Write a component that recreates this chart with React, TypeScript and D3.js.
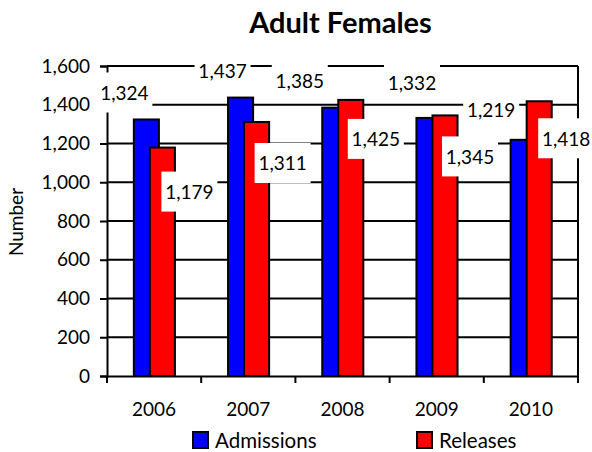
import React, { useEffect, useRef } from 'react';
import * as d3 from 'd3';

const years = ['2006', '2007', '2008', '2009', '2010'];
const admissions = [1324, 1437, 1385, 1332, 1219];
const releases = [1179, 1311, 1425, 1345, 1418];
const yTicks = [0, 200, 400, 600, 800, 1000, 1200, 1400, 1600];

// label nudges (px) from bar top/centre, as placed in the original
const admLabelNudge = [[-22, -27], [-18, -27], [-35, -27], [-17, -35], [-32, -30]];
const relLabelNudge = [[27, 44], [26, 41], [25, 39], [25, 41], [27, 37]];

const FONT = 'Lato, "Open Sans", sans-serif';
const NUM_SIZE = '19px';

function App() {
  const ref = useRef<SVGSVGElement>(null);

  useEffect(() => {
    const svg = d3.select(ref.current);
    svg.selectAll('*').remove();
    const margin = { top: 66, right: 14, bottom: 76, left: 107 };
    const width = 592 - margin.left - margin.right;
    const height = 452 - margin.top - margin.bottom;

    const x = d3.scaleBand().domain(years).range([0, width]).padding(0);
    const y = d3.scaleLinear().domain([0, 1600]).range([height, 0]);
    const bw = x.bandwidth();
    const barW = bw * 0.266;
    const admX = (d: string) => x(d)! + bw / 2 - bw * 0.215;
    const relX = (d: string) => x(d)! + bw / 2 - bw * 0.045;

    svg.append('text')
      .attr('x', margin.left + width / 2 - 2)
      .attr('y', 33)
      .attr('text-anchor', 'middle')
      .style('font-family', FONT)
      .style('font-size', '29px')
      .style('font-weight', 'bold')
      .text('Adult Females');

    svg.append('text')
      .attr('transform', 'translate(23,' + (margin.top + height / 2 + 1) + ') rotate(-90)')
      .attr('text-anchor', 'middle')
      .style('font-family', FONT)
      .style('font-size', '19px')
      .text('Number');

    const g = svg.append('g')
      .attr('transform', 'translate(' + margin.left + ',' + margin.top + ')');

    // gridlines
    g.selectAll('line.grid')
      .data(yTicks.filter(t => t > 0))
      .enter().append('line')
      .attr('x1', 0).attr('x2', width)
      .attr('y1', d => y(d)).attr('y2', d => y(d))
      .attr('stroke', '#000').attr('stroke-width', 2);
    g.append('line')
      .attr('x1', width).attr('x2', width)
      .attr('y1', 0).attr('y2', height)
      .attr('stroke', '#000').attr('stroke-width', 2);

    // bars
    const groups = g.selectAll('g.cat')
      .data(years)
      .enter().append('g');
    groups.append('rect')
      .attr('x', d => admX(d))
      .attr('y', (d, i) => y(admissions[i]))
      .attr('width', barW)
      .attr('height', (d, i) => height - y(admissions[i]))
      .attr('fill', '#0000ff').attr('stroke', '#000').attr('stroke-width', 2);
    groups.append('rect')
      .attr('x', d => relX(d))
      .attr('y', (d, i) => y(releases[i]))
      .attr('width', barW)
      .attr('height', (d, i) => height - y(releases[i]))
      .attr('fill', '#ff0000').attr('stroke', '#000').attr('stroke-width', 2);

    // axes
    const yAxis = g.append('g')
      .call(d3.axisLeft(y).tickValues(yTicks).tickSize(7).tickPadding(10).tickFormat(d3.format(',')));
    yAxis.select('.domain').attr('stroke-width', 2);
    yAxis.selectAll('.tick line').attr('stroke-width', 2);
    yAxis.selectAll('text').style('font-family', FONT).style('font-size', NUM_SIZE).attr('fill', '#000');

    const xAxis = g.append('g')
      .attr('transform', 'translate(0,' + height + ')')
      .call(d3.axisBottom(x).tickSize(0).tickPadding(27));
    xAxis.select('.domain').attr('stroke-width', 2);
    xAxis.selectAll('text').style('font-family', FONT).style('font-size', NUM_SIZE).attr('fill', '#000');
    xAxis.selectAll('line.sep')
      .data(d3.range(years.length + 1))
      .enter().append('line')
      .attr('x1', d => d * bw).attr('x2', d => d * bw)
      .attr('y1', 0).attr('y2', 7)
      .attr('stroke', '#000').attr('stroke-width', 2);

    // data labels with white boxes
    const fmt = d3.format(',');
    const addLabel = (cx: number, cy: number, v: number) => {
      g.append('rect')
        .attr('x', cx - 28).attr('y', cy - 20)
        .attr('width', 56).attr('height', 40)
        .attr('fill', '#fff');
      g.append('text')
        .attr('x', cx).attr('y', cy)
        .attr('text-anchor', 'middle')
        .attr('dominant-baseline', 'central')
        .style('font-family', FONT)
        .style('font-size', NUM_SIZE)
        .text(fmt(v));
    };
    years.forEach((d, i) => {
      addLabel(admX(d) + barW / 2 + admLabelNudge[i][0], y(admissions[i]) + admLabelNudge[i][1], admissions[i]);
      addLabel(relX(d) + barW / 2 + relLabelNudge[i][0], y(releases[i]) + relLabelNudge[i][1], releases[i]);
    });

    // legend
    const legend = svg.append('g').attr('transform', 'translate(193,432)');
    const items = [{ name: 'Admissions', color: '#0000ff', dx: 0 }, { name: 'Releases', color: '#ff0000', dx: 224 }];
    items.forEach(it => {
      legend.append('rect')
        .attr('x', it.dx).attr('y', 0).attr('width', 15).attr('height', 16)
        .attr('fill', it.color).attr('stroke', '#000').attr('stroke-width', 2);
      legend.append('text')
        .attr('x', it.dx + 22).attr('y', 8)
        .attr('dominant-baseline', 'central')
        .style('font-family', FONT)
        .style('font-size', '20.5px')
        .text(it.name);
    });
  }, []);

  return (
    <svg ref={ref} width="592" height="452" style={{ position: 'absolute', left: 0, top: 0, background: '#fff' }} />
  );
}

export default App;
